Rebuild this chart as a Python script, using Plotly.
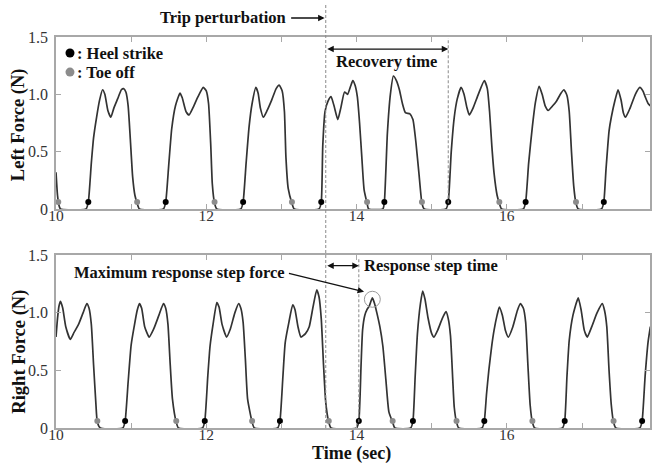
import plotly.graph_objects as go

# ---------------- data ----------------
left_t = [10.00, 10.02, 10.04, 10.06, 10.40,
          10.43, 10.47, 10.50, 10.54, 10.58, 10.62, 10.65, 10.69, 10.73, 10.77, 10.82, 10.87, 10.90, 10.93, 10.96, 10.99, 11.02, 11.05, 11.08, 11.11, 11.43,
          11.46, 11.50, 11.54, 11.59, 11.65, 11.68, 11.73, 11.77, 11.82, 11.89, 11.96, 12.00, 12.03, 12.06, 12.08, 12.11, 12.14, 12.46,
          12.49, 12.53, 12.57, 12.61, 12.66, 12.69, 12.72, 12.76, 12.81, 12.87, 12.93, 12.97, 13.01, 13.04, 13.06, 13.09, 13.14, 13.17, 13.50,
          13.53, 13.55, 13.58, 13.62, 13.66, 13.70, 13.75, 13.79, 13.84, 13.88, 13.92, 13.95, 13.98, 14.01, 14.04, 14.07, 14.10, 14.14, 14.16, 14.35,
          14.37, 14.41, 14.45, 14.49, 14.53, 14.57, 14.61, 14.65, 14.71, 14.75, 14.79, 14.83, 14.87, 14.90, 15.19,
          15.22, 15.26, 15.30, 15.34, 15.39, 15.43, 15.47, 15.50, 15.55, 15.62, 15.70, 15.74, 15.77, 15.80, 15.83, 15.87, 15.90, 15.93, 16.22,
          16.25, 16.29, 16.34, 16.38, 16.43, 16.47, 16.51, 16.55, 16.61, 16.66, 16.72, 16.76, 16.80, 16.83, 16.86, 16.89, 16.92, 16.95, 17.26,
          17.29, 17.32, 17.36, 17.39, 17.44, 17.48, 17.52, 17.55, 17.58, 17.64, 17.71, 17.77, 17.81, 17.84, 17.88, 17.91]
left_f = [0.32, 0.12, 0.03, 0.00, 0.00,
          0.06, 0.40, 0.62, 0.80, 0.95, 1.04, 1.00, 0.86, 0.80, 0.88, 0.96, 1.04, 1.05, 1.02, 0.90, 0.60, 0.28, 0.12, 0.05, 0.00, 0.00,
          0.06, 0.38, 0.70, 0.90, 1.01, 0.97, 0.85, 0.82, 0.88, 0.98, 1.06, 1.03, 0.92, 0.55, 0.22, 0.05, 0.00, 0.00,
          0.06, 0.40, 0.72, 0.92, 1.06, 1.01, 0.88, 0.80, 0.86, 0.95, 1.05, 1.08, 1.03, 0.85, 0.45, 0.18, 0.05, 0.00, 0.00,
          0.06, 0.55, 0.85, 0.94, 0.98, 0.90, 0.78, 0.88, 1.02, 1.00, 1.07, 1.12, 1.08, 0.98, 0.75, 0.45, 0.17, 0.05, 0.00, 0.00,
          0.06, 0.66, 1.00, 1.16, 1.12, 1.04, 0.92, 0.84, 0.83, 0.78, 0.58, 0.31, 0.05, 0.00, 0.00,
          0.06, 0.50, 0.80, 0.96, 1.06, 1.00, 0.88, 0.82, 0.88, 1.00, 1.12, 1.05, 0.85, 0.55, 0.31, 0.12, 0.05, 0.00, 0.00,
          0.06, 0.40, 0.72, 0.93, 1.07, 1.00, 0.90, 0.86, 0.90, 0.94, 1.01, 1.04, 0.99, 0.85, 0.50, 0.20, 0.05, 0.00, 0.00,
          0.06, 0.35, 0.68, 0.80, 0.95, 1.04, 0.95, 0.84, 0.80, 0.88, 1.00, 1.06, 1.03, 0.98, 0.92, 0.90]

right_t = [10.00, 10.02, 10.04, 10.06, 10.09, 10.13, 10.19, 10.24, 10.30, 10.36, 10.41, 10.44, 10.47, 10.50, 10.53, 10.55, 10.59, 10.89,
           10.92, 10.96, 11.00, 11.04, 11.08, 11.11, 11.14, 11.18, 11.24, 11.30, 11.37, 11.43, 11.46, 11.49, 11.52, 11.55, 11.60, 11.63, 11.95,
           11.98, 12.02, 12.05, 12.09, 12.14, 12.17, 12.21, 12.27, 12.32, 12.38, 12.43, 12.46, 12.49, 12.52, 12.55, 12.61, 12.64, 12.95,
           12.98, 13.02, 13.05, 13.10, 13.15, 13.18, 13.22, 13.26, 13.32, 13.37, 13.42, 13.47, 13.50, 13.53, 13.56, 13.59, 13.63, 13.66, 14.00,
           14.03, 14.06, 14.08, 14.11, 14.14, 14.17, 14.21, 14.24, 14.27, 14.31, 14.35, 14.39, 14.43, 14.48, 14.51, 14.72,
           14.75, 14.78, 14.81, 14.85, 14.88, 14.91, 14.95, 15.00, 15.03, 15.08, 15.14, 15.19, 15.22, 15.25, 15.28, 15.30, 15.33, 15.36, 15.67,
           15.70, 15.73, 15.76, 15.80, 15.83, 15.87, 15.90, 15.94, 15.98, 16.02, 16.08, 16.14, 16.18, 16.22, 16.25, 16.28, 16.31, 16.34, 16.37, 16.74,
           16.77, 16.80, 16.83, 16.88, 16.95, 16.99, 17.03, 17.07, 17.13, 17.20, 17.27, 17.30, 17.33, 17.36, 17.39, 17.42, 17.45, 17.77,
           17.80, 17.84, 17.88, 17.91]
right_f = [0.79, 0.95, 1.06, 1.10, 1.04, 0.88, 0.77, 0.83, 0.90, 1.00, 1.08, 1.04, 0.90, 0.55, 0.22, 0.05, 0.00, 0.00,
           0.06, 0.40, 0.72, 0.88, 1.02, 1.08, 1.04, 0.88, 0.79, 0.86, 0.98, 1.08, 1.04, 0.90, 0.55, 0.25, 0.05, 0.00, 0.00,
           0.06, 0.45, 0.71, 0.90, 1.09, 1.05, 0.90, 0.79, 0.86, 1.00, 1.08, 1.04, 0.92, 0.60, 0.25, 0.05, 0.00, 0.00,
           0.06, 0.45, 0.74, 0.92, 1.07, 1.03, 0.88, 0.79, 0.82, 0.88, 1.05, 1.20, 1.14, 0.95, 0.55, 0.22, 0.05, 0.00, 0.00,
           0.06, 0.55, 0.85, 0.98, 1.03, 1.06, 1.13, 1.08, 1.00, 0.88, 0.71, 0.42, 0.14, 0.05, 0.00, 0.00,
           0.06, 0.45, 0.82, 1.08, 1.19, 1.12, 0.96, 0.82, 0.79, 0.85, 0.95, 1.01, 0.95, 0.80, 0.42, 0.18, 0.05, 0.00, 0.00,
           0.06, 0.30, 0.50, 0.72, 0.85, 0.98, 1.05, 0.98, 0.85, 0.79, 0.88, 1.02, 1.08, 1.04, 0.92, 0.55, 0.20, 0.05, 0.00, 0.00,
           0.06, 0.45, 0.76, 0.98, 1.13, 1.02, 0.85, 0.79, 0.88, 1.00, 1.08, 1.02, 0.88, 0.50, 0.20, 0.05, 0.00, 0.00,
           0.06, 0.45, 0.75, 0.88]

left_heel_t = [10.43, 11.46, 12.49, 13.53, 14.37, 15.22, 16.25, 17.29]
left_toe_t = [10.03, 11.08, 12.11, 13.14, 14.14, 14.87, 15.90, 16.92]
right_heel_t = [10.92, 11.98, 12.98, 14.03, 14.75, 15.70, 16.77, 17.80]
right_toe_t = [10.55, 11.60, 12.61, 13.63, 14.48, 15.33, 16.34, 17.42]
event_f = 0.06

x_tickvals = [10, 11, 12, 13, 14, 15, 16, 17]
x_ticktext = ["10", "", "12", "", "14", "", "16", ""]
y_tickvals = [0, 0.5, 1.0, 1.5]
y_ticktext = ["0", "0.5", "1.0", "1.5"]

trip_t = 13.59
recovery_end_t = 15.22
response_end_t = 14.03
max_force_t = 14.21
max_force_f = 1.118

# ---------------- figure ----------------
SERIF = "Liberation Serif"
LINE = "#333333"
AX = "#a8a8a8"

fig = go.Figure()
fig.add_trace(go.Scatter(x=left_t, y=left_f, mode="lines", line=dict(color=LINE, width=1.7, shape="spline", smoothing=0.5),
                         xaxis="x", yaxis="y", hoverinfo="skip"))
fig.add_trace(go.Scatter(x=right_t, y=right_f, mode="lines", line=dict(color=LINE, width=1.7, shape="spline", smoothing=0.5),
                         xaxis="x2", yaxis="y2", hoverinfo="skip"))
fig.add_trace(go.Scatter(x=left_heel_t, y=[event_f] * len(left_heel_t), mode="markers",
                         marker=dict(color="black", size=6), xaxis="x", yaxis="y"))
fig.add_trace(go.Scatter(x=left_toe_t, y=[event_f] * len(left_toe_t), mode="markers",
                         marker=dict(color="#8c8c8c", size=6), xaxis="x", yaxis="y"))
fig.add_trace(go.Scatter(x=right_heel_t, y=[event_f] * len(right_heel_t), mode="markers",
                         marker=dict(color="black", size=6), xaxis="x2", yaxis="y2"))
fig.add_trace(go.Scatter(x=right_toe_t, y=[event_f] * len(right_toe_t), mode="markers",
                         marker=dict(color="#8c8c8c", size=6), xaxis="x2", yaxis="y2"))
# legend dots
fig.add_trace(go.Scatter(x=[10.186, 10.186], y=[1.36, 1.194], mode="markers",
                         marker=dict(color=["black", "#8c8c8c"], size=9), xaxis="x", yaxis="y"))

axis_common = dict(range=[10, 17.905], showgrid=False, zeroline=False, showline=True, linecolor=AX, linewidth=1.5,
                   mirror="ticks", ticks="inside", ticklen=5, tickcolor=AX, tickvals=x_tickvals, ticktext=x_ticktext,
                   ticklabelstandoff=-8,
                   tickfont=dict(family=SERIF, size=15.5, color="#333"))
yaxis_common = dict(range=[0, 1.5], showgrid=False, zeroline=False, showline=True, linecolor=AX, linewidth=1.5,
                    mirror="ticks", ticks="inside", ticklen=5, tickcolor=AX, tickvals=y_tickvals, ticktext=y_ticktext,
                    ticklabelstandoff=3,
                    tickfont=dict(family=SERIF, size=16, color="#333"))

fig.update_layout(
    width=652, height=463, margin=dict(l=56, r=0, t=37, b=35),
    paper_bgcolor="white", plot_bgcolor="white", showlegend=False,
    xaxis=dict(axis_common, anchor="y"),
    yaxis=dict(yaxis_common, domain=[0.5601, 1], anchor="x"),
    xaxis2=dict(axis_common, anchor="y2"),
    yaxis2=dict(yaxis_common, domain=[0, 0.4417], anchor="x2"),
)

DASH = dict(color="#8a8a8a", width=1, dash="3px,2px")
shapes = [
    dict(type="line", xref="x", yref="paper", x0=trip_t, x1=trip_t, y0=0, y1=1.085, line=DASH),
    dict(type="line", xref="x", yref="y", x0=recovery_end_t, x1=recovery_end_t, y0=0.05, y1=1.49, line=DASH),
    dict(type="line", xref="x2", yref="y2", x0=response_end_t, x1=response_end_t, y0=0.05, y1=1.48, line=DASH),
    dict(type="circle", xref="x2", yref="y2", x0=max_force_t - 0.106, x1=max_force_t + 0.106,
         y0=max_force_f - 0.0695, y1=max_force_f + 0.0695, line=dict(color="#9a9a9a", width=1)),
]
fig.update_layout(shapes=shapes)

TXT = dict(family=SERIF, size=16.5, color="#111")
TITLE = dict(family=SERIF, size=18.5, color="#111")
ann = [
    dict(text="<b>Trip perturbation</b>", xref="x", yref="paper", x=13.09, y=1.0486, xanchor="right", yanchor="middle",
         showarrow=False, font=TXT),
    dict(text="", xref="x", yref="paper", x=13.575, y=1.0486, ax=-35, ay=0, showarrow=True, arrowhead=2,
         arrowsize=1, arrowwidth=1.3, arrowcolor="#111"),
    dict(text="", xref="x", yref="y", axref="x", ayref="y", x=recovery_end_t, y=1.395, ax=trip_t, ay=1.395,
         showarrow=True, arrowhead=2, arrowside="end+start", arrowsize=1, arrowwidth=1.3, arrowcolor="#111"),
    dict(text="<b>Recovery time</b>", xref="x", yref="y", x=14.40, y=1.29, showarrow=False, font=TXT),
    dict(text="", xref="x2", yref="y2", axref="x2", ayref="y2", x=response_end_t, y=1.41, ax=trip_t, ay=1.41,
         showarrow=True, arrowhead=2, arrowside="end+start", arrowsize=1, arrowwidth=1.3, arrowcolor="#111"),
    dict(text="<b>Response step time</b>", xref="x2", yref="y2", x=14.07, y=1.41, xanchor="left", yanchor="middle",
         showarrow=False, font=TXT),
    dict(text="<b>Maximum response step force</b>", xref="x2", yref="y2", x=13.08, y=1.347, xanchor="right",
         yanchor="middle", showarrow=False, font=TXT),
    dict(text="", xref="x2", yref="y2", axref="x2", ayref="y2", x=14.10, y=1.184, ax=13.08, ay=1.347,
         showarrow=True, arrowhead=2, arrowsize=1, arrowwidth=1.3, arrowcolor="#111"),
    dict(text="<b>: Heel strike</b>", xref="x", yref="y", x=10.25, y=1.36, xanchor="left", yanchor="middle",
         showarrow=False, font=TXT),
    dict(text="<b>: Toe off</b>", xref="x", yref="y", x=10.25, y=1.194, xanchor="left", yanchor="middle",
         showarrow=False, font=TXT),
    dict(text="<b>Left Force (N)</b>", xref="paper", yref="paper", x=-0.062, y=0.775, textangle=-90,
         xanchor="center", yanchor="middle", showarrow=False, font=TITLE),
    dict(text="<b>Right Force (N)</b>", xref="paper", yref="paper", x=-0.062, y=0.1957, textangle=-90,
         xanchor="center", yanchor="middle", showarrow=False, font=TITLE),
    dict(text="<b>Time (sec)</b>", xref="paper", yref="paper", x=0.498, y=-0.066, xanchor="center", yanchor="middle",
         showarrow=False, font=dict(family=SERIF, size=18, color="#111")),
]
fig.update_layout(annotations=ann)

fig.write_html("out.html")
